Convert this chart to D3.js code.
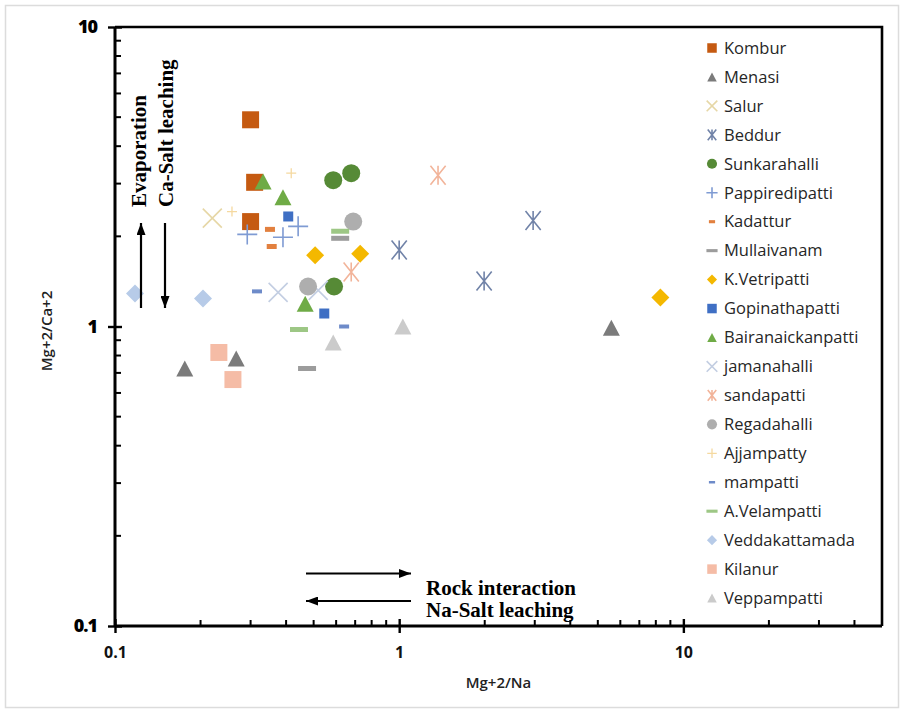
<!DOCTYPE html>
<html>
<head>
<meta charset="utf-8">
<script src="https://cdn.jsdelivr.net/npm/d3@7/dist/d3.min.js"></script>
<style>
  html, body { margin: 0; padding: 0; background: #fff; }
  svg { display: block; }
</style>
</head>
<body>
<svg id="chart" width="904" height="713"></svg>
<script>
// Sampling sites and their Mg/Na (x) and Mg/Ca (y) ratios
const sites = ["Kombur", "Menasi", "Salur", "Beddur", "Sunkarahalli", "Pappiredipatti",
  "Kadattur", "Mullaivanam", "K.Vetripatti", "Gopinathapatti", "Bairanaickanpatti",
  "jamanahalli", "sandapatti", "Regadahalli", "Ajjampatty", "mampatti", "A.Velampatti",
  "Veddakattamada", "Kilanur", "Veppampatti"];

const mgNa = [
  [0.30, 0.31, 0.30],        // Kombur
  [0.176, 0.267, 5.58],      // Menasi
  [0.22],                    // Salur
  [2.96, 1.99, 1.0],         // Beddur
  [0.586, 0.678, 0.59],      // Sunkarahalli
  [0.292, 0.390, 0.441],     // Pappiredipatti
  [0.351, 0.356],            // Kadattur
  [0.62, 0.474],             // Mullaivanam
  [0.506, 0.729, 8.30],      // K.Vetripatti
  [0.407, 0.545],            // Gopinathapatti
  [0.332, 0.390, 0.467],     // Bairanaickanpatti
  [0.375, 0.519],            // jamanahalli
  [1.37, 0.678],             // sandapatti
  [0.689, 0.478],            // Regadahalli
  [0.417, 0.258],            // Ajjampatty
  [0.316, 0.640],            // mampatti
  [0.62, 0.444],             // A.Velampatti
  [0.1176, 0.204],           // Veddakattamada
  [0.232, 0.260],            // Kilanur
  [0.586, 1.03]              // Veppampatti
];

const mgCa = [
  [4.9, 3.03, 2.24],
  [0.724, 0.782, 0.99],
  [2.30],
  [2.26, 1.42, 1.80],
  [3.08, 3.25, 1.36],
  [2.03, 1.985, 2.16],
  [2.11, 1.85],
  [1.97, 0.724],
  [1.73, 1.75, 1.25],
  [2.33, 1.105],
  [3.05, 2.70, 1.19],
  [1.30, 1.32],
  [3.20, 1.52],
  [2.24, 1.36],
  [3.25, 2.42],
  [1.31, 1.0],
  [2.08, 0.977],
  [1.29, 1.24],
  [0.819, 0.665],
  [0.884, 1.0]
];

const xTickValues = [0.1, 1, 10];
const yTickValues = [0.1, 1, 10];

// Marker look for each site: shape, colour, width, height
const markerStyle = [
  { shape: "square",   color: "#C55A11", w: 17, h: 17 },
  { shape: "triangle", color: "#7B7B7B", w: 17, h: 16 },
  { shape: "times",    color: "#E6D7A6", w: 19, h: 19 },
  { shape: "asterisk", color: "#7183A8", w: 19, h: 19 },
  { shape: "circle",   color: "#568A36", w: 18, h: 18 },
  { shape: "plus",     color: "#7F9BD3", w: 20, h: 20 },
  { shape: "dash",     color: "#E2803F", w: 10, h: 5 },
  { shape: "dash",     color: "#9C9C9C", w: 18, h: 5 },
  { shape: "diamond",  color: "#F4B800", w: 18, h: 18 },
  { shape: "square",   color: "#3F6FC4", w: 10, h: 10 },
  { shape: "triangle", color: "#6FAB46", w: 17, h: 16 },
  { shape: "times",    color: "#C3CEE2", w: 19, h: 19 },
  { shape: "asterisk", color: "#F2B49A", w: 19, h: 19 },
  { shape: "circle",   color: "#AEAEAE", w: 18, h: 18 },
  { shape: "plus",     color: "#F5D9A0", w: 10, h: 10 },
  { shape: "dash",     color: "#6E8BC9", w: 10, h: 4 },
  { shape: "dash",     color: "#9DC785", w: 18, h: 5 },
  { shape: "diamond",  color: "#B7CBE8", w: 18, h: 18 },
  { shape: "square",   color: "#F5BCA6", w: 17, h: 17 },
  { shape: "triangle", color: "#CBCBCB", w: 17, h: 16 }
];

const W = 904, H = 713;
const plot = { left: 115, right: 882, top: 27, bottom: 626 };

const svg = d3.select("#chart");

// outer light frame
svg.append("rect")
  .attr("x", 5.5).attr("y", 5.5)
  .attr("width", W - 11).attr("height", H - 11)
  .attr("fill", "#fff").attr("stroke", "#dcdcdc").attr("stroke-width", 1.5);

const x = d3.scaleLog().domain([0.1, 50]).range([plot.left, plot.right]);
const y = d3.scaleLog().domain([0.1, 10]).range([plot.bottom, plot.top]);

// marker geometry centred at the origin
function markerPath(shape, w, h) {
  const a = w / 2, b = h / 2;
  switch (shape) {
    case "square":
    case "dash":
      return `M${-a},${-b}H${a}V${b}H${-a}Z`;
    case "triangle":
      return `M0,${-b}L${a},${b}L${-a},${b}Z`;
    case "diamond":
      return `M0,${-b}L${a},0L0,${b}L${-a},0Z`;
    case "circle": {
      const p = d3.path();
      p.arc(0, 0, a, 0, 2 * Math.PI);
      return p.toString();
    }
    case "plus":
      return `M${-a},0H${a}M0,${-b}V${b}`;
    case "times":
      return `M${-a},${-b}L${a},${b}M${-a},${b}L${a},${-b}`;
    case "asterisk":
      return `M${-a * 0.8},${-b}L${a * 0.8},${b}M${-a * 0.8},${b}L${a * 0.8},${-b}M0,${-b}V${b}`;
  }
}
const stroked = new Set(["plus", "times", "asterisk"]);

function drawMarker(sel, st, scale) {
  const w = st.w * scale, h = st.h * scale;
  sel.attr("d", markerPath(st.shape, w, h));
  if (stroked.has(st.shape)) {
    sel.attr("fill", "none").attr("stroke", st.color)
      .attr("stroke-width", st.shape === "plus" && st.w < 12 ? 1.3 : 1.6);
  } else {
    sel.attr("fill", st.color).attr("stroke", "none");
  }
}

// points
const pointsLayer = svg.append("g");
sites.forEach((name, i) => {
  const pts = mgNa[i].map((v, j) => [v, mgCa[i][j]]);
  pointsLayer.append("g").attr("class", "site")
    .selectAll("path").data(pts).join("path")
    .attr("transform", d => `translate(${x(d[0])},${y(d[1])})`)
    .each(function () { drawMarker(d3.select(this), markerStyle[i], 1); });
});

// plot frame (top and right)
svg.append("path")
  .attr("d", `M${plot.left},${plot.top}H${plot.right}V${plot.bottom}`)
  .attr("fill", "none").attr("stroke", "#000").attr("stroke-width", 2.6);

// minor ticks
function minorValues(lo, hi) {
  const out = [];
  for (let d = lo; d < hi; d *= 10)
    for (let k = 2; k <= 9; k++) if (k * d <= hi) out.push(k * d);
  return out;
}
svg.append("g").selectAll("line").data(minorValues(0.1, 50)).join("line")
  .attr("x1", d => x(d)).attr("x2", d => x(d))
  .attr("y1", plot.bottom).attr("y2", plot.bottom - 6)
  .attr("stroke", "#000").attr("stroke-width", 2);
svg.append("g").selectAll("line").data(minorValues(0.1, 10)).join("line")
  .attr("y1", d => y(d)).attr("y2", d => y(d))
  .attr("x1", plot.left).attr("x2", plot.left + 6)
  .attr("stroke", "#000").attr("stroke-width", 2);

// axes
const fmt = d3.format("~g");
const xAxis = svg.append("g")
  .attr("transform", `translate(0,${plot.bottom})`)
  .call(d3.axisBottom(x).tickValues(xTickValues).tickFormat(fmt).tickSize(7).tickPadding(14));
const yAxis = svg.append("g")
  .attr("transform", `translate(${plot.left},0)`)
  .call(d3.axisLeft(y).tickValues(yTickValues).tickFormat(fmt).tickSize(7).tickPadding(11));

[xAxis, yAxis].forEach(g => {
  g.select(".domain").attr("stroke", "#000").attr("stroke-width", 3);
  g.selectAll(".tick line").attr("stroke", "#000").attr("stroke-width", 2.4);
});
xAxis.selectAll(".tick line").attr("y1", -7);
yAxis.selectAll(".tick line").attr("x1", 7);
xAxis.select(".domain").attr("d", `M${plot.left},0H${plot.right}`);
yAxis.select(".domain").attr("d", `M0,${plot.top}V${plot.bottom}`);

xAxis.selectAll(".tick text")
  .attr("fill", "#111").style("font", "bold 16px 'Open Sans', sans-serif");
yAxis.selectAll(".tick text")
  .attr("fill", "#000").style("font", "800 18px 'Open Sans', sans-serif")
  .attr("letter-spacing", "-1px");

// axis titles
svg.append("text")
  .attr("x", (plot.left + plot.right) / 2).attr("y", 688)
  .attr("text-anchor", "middle")
  .style("font", "600 15px 'Open Sans', sans-serif").attr("fill", "#222")
  .text("Mg+2/Na");
svg.append("text")
  .attr("transform", `translate(52,331) rotate(-90)`)
  .attr("text-anchor", "middle")
  .style("font", "600 15px 'Open Sans', sans-serif").attr("fill", "#222")
  .text("Mg+2/Ca+2");

// process annotations
const defs = svg.append("defs");
defs.append("marker").attr("id", "head")
  .attr("viewBox", "0 0 12 9").attr("refX", 12).attr("refY", 4.5)
  .attr("markerWidth", 12).attr("markerHeight", 9).attr("markerUnits", "userSpaceOnUse")
  .attr("orient", "auto")
  .append("path").attr("d", "M0,0L12,4.5L0,9Z").attr("fill", "#000");

function arrow(x1, y1, x2, y2) {
  svg.append("line")
    .attr("x1", x1).attr("y1", y1).attr("x2", x2).attr("y2", y2)
    .attr("stroke", "#000").attr("stroke-width", 2.2)
    .attr("marker-end", "url(#head)");
}
arrow(141, 308, 141, 223);
arrow(165, 223, 165, 308);
arrow(306, 573.5, 411, 573.5);
arrow(411, 601, 306, 601);

const serif = "bold 21px 'Liberation Serif', 'Times New Roman', serif";
svg.append("text").attr("transform", "translate(146,207) rotate(-90)")
  .style("font", serif).attr("fill", "#000").text("Evaporation");
svg.append("text").attr("transform", "translate(173,207) rotate(-90)")
  .style("font", serif).attr("fill", "#000").text("Ca-Salt leaching");
svg.append("text").attr("x", 426).attr("y", 595)
  .style("font", serif).attr("fill", "#000").text("Rock interaction");
svg.append("text").attr("x", 426).attr("y", 617)
  .style("font", serif).attr("fill", "#000").text("Na-Salt leaching");

// legend
const legend = svg.append("g");
const rowH = 28.95;
sites.forEach((name, i) => {
  const row = legend.append("g").attr("transform", `translate(0,${48 + i * rowH})`);
  const st = markerStyle[i];
  const s = (st.shape === "dash") ? 0.62 : (st.w < 12 ? 0.95 : 0.56);
  row.append("path").attr("transform", "translate(712,0)")
    .call(sel => drawMarker(sel, st, s));
  row.append("text").attr("x", 724).attr("y", 0).attr("dy", "0.35em")
    .style("font", "16.5px 'Open Sans', sans-serif").attr("fill", "#262626")
    .text(name);
});
</script>
</body>
</html>
